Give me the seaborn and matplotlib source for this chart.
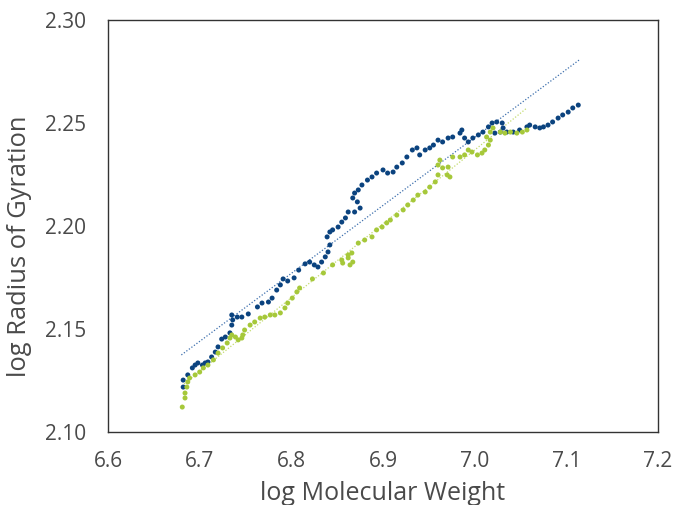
import matplotlib
matplotlib.use("Agg")
import matplotlib.pyplot as plt
import numpy as np
import pandas as pd
import seaborn as sns

# traced conformation data (log M vs log Rg)
blue_logm = [
    6.682, 6.682, 6.687, 6.692, 6.695, 6.698, 6.703, 6.706, 6.709, 6.713,
    6.717, 6.720, 6.724, 6.728, 6.733, 6.735, 6.736, 6.735, 6.741, 6.746,
    6.753, 6.763, 6.768, 6.775, 6.779, 6.784, 6.788, 6.791, 6.796, 6.803,
    6.808, 6.815, 6.820, 6.825, 6.829, 6.833, 6.837, 6.840, 6.842, 6.839,
    6.842, 6.845, 6.851, 6.855, 6.859, 6.862, 6.869, 6.875, 6.872, 6.867,
    6.869, 6.873, 6.877, 6.883, 6.888, 6.893, 6.900, 6.905, 6.911, 6.915,
    6.921, 6.926, 6.932, 6.937, 6.940, 6.946, 6.951, 6.955, 6.960, 6.965,
    6.971, 6.976, 6.984, 6.986, 6.989, 6.993, 6.998, 7.004, 7.009, 7.015,
    7.019, 7.024, 7.030, 7.031, 7.028, 7.022, 7.035, 7.042, 7.049, 7.057,
    7.060, 7.066, 7.071, 7.075, 7.080, 7.085, 7.091, 7.096, 7.102, 7.107,
    7.113,
]
blue_logrg = [
    2.1252, 2.1218, 2.1277, 2.1311, 2.1325, 2.1335, 2.1325, 2.1335, 2.1340, 2.1364,
    2.1388, 2.1413, 2.1451, 2.1461, 2.1481, 2.1519, 2.1544, 2.1568, 2.1558, 2.1558,
    2.1573, 2.1607, 2.1626, 2.1631, 2.1650, 2.1689, 2.1714, 2.1743, 2.1733, 2.1748,
    2.1786, 2.1816, 2.1825, 2.1811, 2.1801, 2.1825, 2.1850, 2.1874, 2.1908, 2.1947,
    2.1971, 2.1981, 2.1995, 2.2019, 2.2039, 2.2068, 2.2068, 2.2087, 2.2117, 2.2136,
    2.2160, 2.2175, 2.2199, 2.2223, 2.2238, 2.2257, 2.2272, 2.2257, 2.2262, 2.2286,
    2.2306, 2.2335, 2.2369, 2.2379, 2.2345, 2.2369, 2.2379, 2.2393, 2.2417, 2.2408,
    2.2427, 2.2432, 2.2451, 2.2466, 2.2427, 2.2408, 2.2427, 2.2442, 2.2456, 2.2481,
    2.2500, 2.2505, 2.2500, 2.2476, 2.2456, 2.2451, 2.2456, 2.2456, 2.2466, 2.2481,
    2.2490, 2.2481, 2.2476, 2.2481, 2.2490, 2.2505, 2.2524, 2.2539, 2.2553, 2.2573,
    2.2587,
]

green_logm = [
    6.681, 6.684, 6.684, 6.686, 6.687, 6.689, 6.695, 6.700, 6.704, 6.709,
    6.715, 6.720, 6.725, 6.730, 6.733, 6.735, 6.739, 6.742, 6.746, 6.747,
    6.749, 6.755, 6.760, 6.766, 6.771, 6.777, 6.782, 6.788, 6.793, 6.796,
    6.801, 6.806, 6.809, 6.823, 6.835, 6.845, 6.855, 6.862, 6.867, 6.864,
    6.856, 6.862, 6.866, 6.873, 6.880, 6.888, 6.893, 6.899, 6.904, 6.908,
    6.915, 6.922, 6.927, 6.933, 6.938, 6.946, 6.951, 6.957, 6.960, 6.960,
    6.962, 6.965, 6.970, 6.973, 6.971, 6.976, 6.984, 6.989, 6.993, 6.997,
    7.003, 7.008, 7.011, 7.015, 7.017, 7.013, 7.017, 7.020, 7.028, 7.033,
    7.039, 7.046, 7.052, 7.057,
]
green_logrg = [
    2.1121, 2.1165, 2.1189, 2.1218, 2.1243, 2.1262, 2.1277, 2.1291, 2.1311, 2.1325,
    2.1350, 2.1383, 2.1408, 2.1432, 2.1456, 2.1471, 2.1461, 2.1447, 2.1456, 2.1471,
    2.1495, 2.1519, 2.1534, 2.1553, 2.1558, 2.1568, 2.1568, 2.1578, 2.1602, 2.1626,
    2.1650, 2.1680, 2.1699, 2.1743, 2.1772, 2.1811, 2.1835, 2.1845, 2.1825, 2.1811,
    2.1820, 2.1859, 2.1869, 2.1917, 2.1932, 2.1947, 2.1981, 2.1995, 2.2015, 2.2029,
    2.2053, 2.2078, 2.2102, 2.2126, 2.2150, 2.2165, 2.2189, 2.2214, 2.2248, 2.2296,
    2.2320, 2.2282, 2.2248, 2.2238, 2.2286, 2.2335, 2.2335, 2.2345, 2.2369, 2.2359,
    2.2345, 2.2354, 2.2369, 2.2393, 2.2417, 2.2432, 2.2456, 2.2476, 2.2456, 2.2451,
    2.2456, 2.2451, 2.2456, 2.2466,
]

# linear fits drawn over the measured range
blue_fit_logm = [6.680, 7.114]
blue_fit_logrg = [2.1374, 2.2806]
green_fit_logm = [6.683, 7.057]
green_fit_logrg = [2.1233, 2.2573]

x_ticks = [6.6, 6.7, 6.8, 6.9, 7.0, 7.1, 7.2]
y_ticks = [2.10, 2.15, 2.20, 2.25, 2.30]

BLUE = "#0b437f"
GREEN = "#a6c83a"
TEXT = "#4a4a4a"

sns.set_theme(style="white")
plt.rcParams["font.family"] = ["Open Sans", "DejaVu Sans"]

points = pd.concat(
    [
        pd.DataFrame({"logm": blue_logm, "logrg": blue_logrg, "sample": "blue"}),
        pd.DataFrame({"logm": green_logm, "logrg": green_logrg, "sample": "green"}),
    ],
    ignore_index=True,
)
fits = pd.concat(
    [
        pd.DataFrame({"logm": blue_fit_logm, "logrg": blue_fit_logrg, "sample": "blue"}),
        pd.DataFrame({"logm": green_fit_logm, "logrg": green_fit_logrg, "sample": "green"}),
    ],
    ignore_index=True,
)

fig = plt.figure(figsize=(6.76, 5.05), dpi=100)
ax = fig.add_axes([0.1598, 0.1446, 0.8136, 0.8158])

sns.lineplot(
    data=fits, x="logm", y="logrg", hue="sample",
    palette={"blue": "#3d6fad", "green": "#c3db6e"},
    linestyle=(0, (1, 1.5)), linewidth=0.9, legend=False, ax=ax, zorder=1,
)
sns.scatterplot(
    data=points, x="logm", y="logrg", hue="sample",
    palette={"blue": BLUE, "green": GREEN},
    s=13, linewidth=0, legend=False, ax=ax, zorder=2,
)

ax.set_xlim(6.6, 7.2)
ax.set_ylim(2.10, 2.30)
ax.set_xticks(x_ticks)
ax.set_xticklabels([f"{t:.1f}" for t in x_ticks])
ax.set_yticks(y_ticks)
ax.set_yticklabels([f"{t:.2f}" for t in y_ticks])
ax.tick_params(axis="both", direction="out", length=6, width=1, color="#333333",
               labelsize=15, labelcolor=TEXT)
ax.tick_params(axis="x", pad=8)
ax.tick_params(axis="y", pad=10)
for spine in ax.spines.values():
    spine.set_color("#333333")
    spine.set_linewidth(1)

ax.set_xlabel("log Molecular Weight", fontsize=18, color=TEXT, labelpad=6)
ax.set_ylabel("log Radius of Gyration", fontsize=18.4, color=TEXT)
ax.yaxis.set_label_coords(-0.138, 0.451)

fig.savefig("out.png", dpi=100)
